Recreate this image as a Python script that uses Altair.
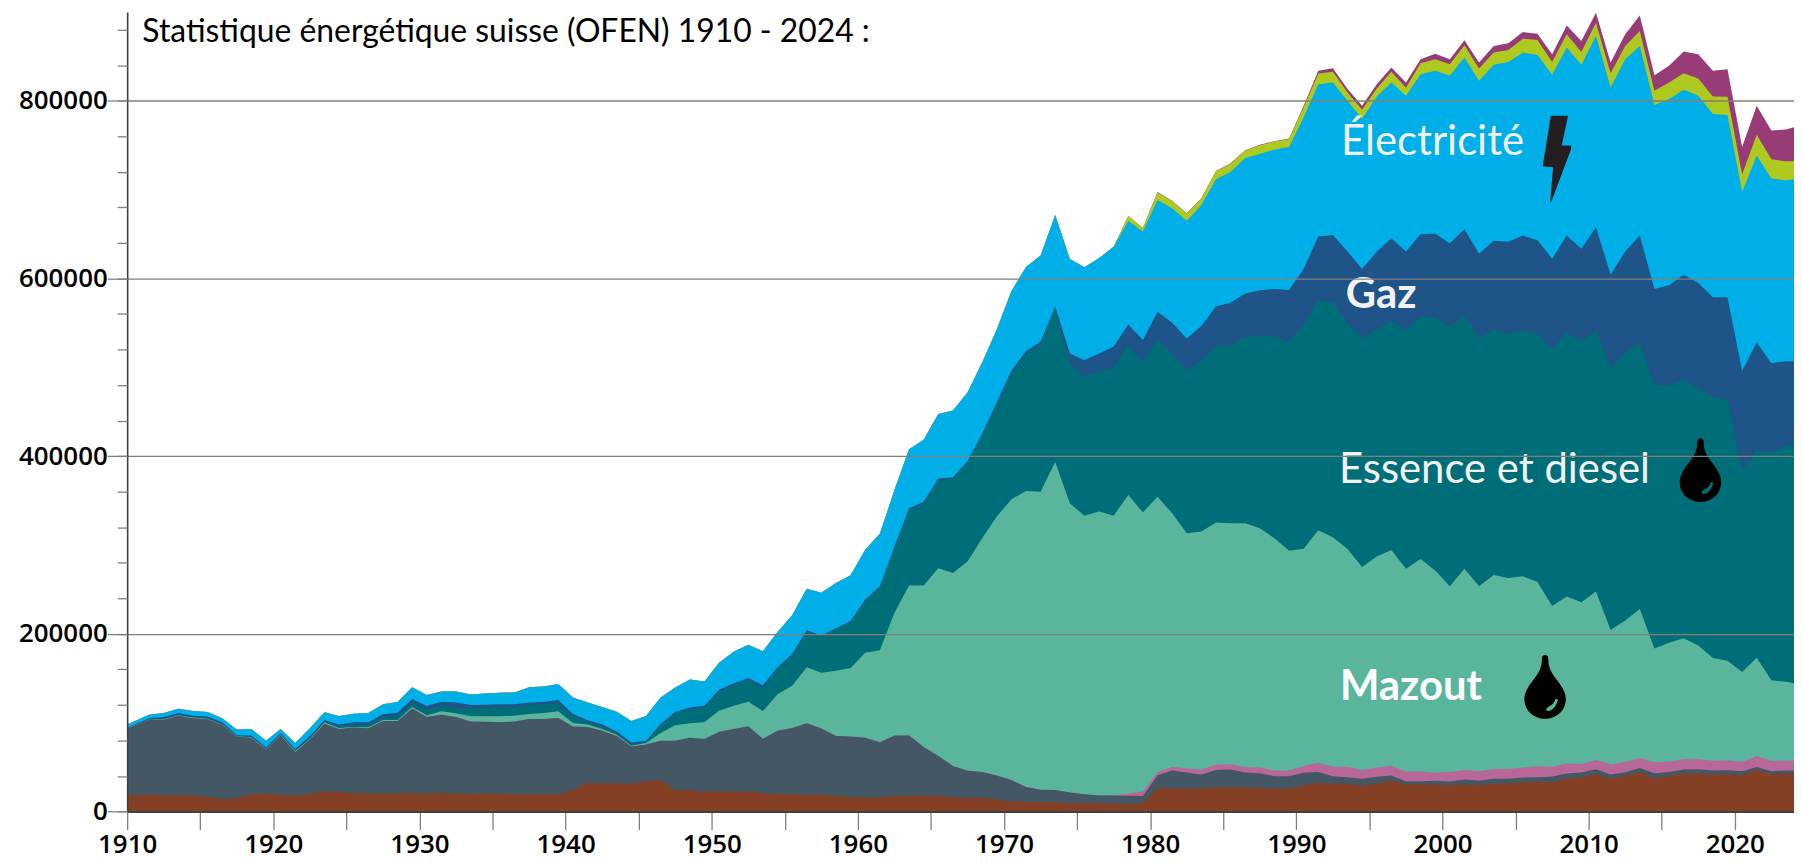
import altair as alt
import pandas as pd

years = list(range(1910, 2025))

# cumulative upper edge of every band, in thousands
wood_top = [
    18.6, 18.6, 18.6, 18.2, 18.2, 16.8, 14.2, 14.9, 19.4, 20.5,
    18.6, 17.9, 20.1, 22.7, 22.0, 20.9, 20.9, 20.1, 20.5, 20.9,
    20.5, 21.2, 20.5, 20.1, 20.1, 20.5, 19.4, 19.4, 19.2, 19.4,
    24.2, 32.4, 32.0, 32.0, 31.3, 34.3, 35.7, 23.8, 24.2, 22.3,
    23.0, 22.7, 22.3, 20.9, 19.7, 19.4, 18.6, 19.0, 17.5, 16.4,
    16.0, 15.6, 17.5, 17.5, 17.5, 17.9, 16.0, 15.6, 15.3, 13.8,
    11.5, 10.8, 10.4, 10.8, 9.3, 9.3, 9.3, 9.0, 8.6, 9.7,
    26.4, 26.4, 26.0, 26.0, 27.2, 27.6, 27.2, 26.8, 26.1, 26.1,
    29.8, 32.4, 31.7, 31.3, 29.4, 31.3, 34.6, 30.9, 30.9, 30.5,
    29.4, 30.5, 29.8, 31.3, 31.7, 32.8, 33.5, 33.1, 37.2, 38.4,
    42.1, 37.2, 40.2, 44.7, 37.6, 39.8, 42.8, 43.2, 41.7, 42.1,
    41.0, 46.9, 42.1, 42.8, 42.8,
]
coal_top = [
    93.8, 103.0, 103.5, 108.0, 105.0, 103.9, 97.6, 84.5, 83.0, 70.0,
    85.7, 67.0, 81.2, 99.0, 93.0, 94.6, 93.8, 102.0, 102.0, 116.0,
    106.5, 109.0, 106.5, 101.3, 101.0, 100.5, 101.3, 104.3, 104.3, 105.4,
    95.7, 95.3, 90.9, 85.2, 73.4, 75.6, 79.7, 79.7, 83.0, 81.6,
    90.0, 93.0, 96.0, 82.0, 91.0, 94.0, 99.4, 93.5, 85.0, 84.5,
    83.0, 78.0, 85.7, 85.7, 72.6, 62.6, 51.4, 46.0, 44.7, 40.6,
    35.7, 27.6, 24.6, 24.2, 21.6, 19.4, 18.2, 18.2, 17.9, 17.5,
    41.0, 46.2, 44.0, 41.7, 46.9, 47.3, 43.9, 43.2, 39.8, 39.8,
    43.6, 44.7, 39.8, 38.7, 36.9, 39.1, 40.6, 34.3, 34.3, 34.6,
    33.9, 36.1, 34.6, 36.9, 36.9, 38.4, 38.7, 39.5, 42.8, 43.9,
    47.7, 41.7, 44.3, 49.2, 43.2, 44.7, 47.3, 47.7, 46.2, 46.5,
    45.4, 50.3, 45.4, 46.2, 46.2,
]
heat_top = [
    93.8, 103.0, 103.5, 108.0, 105.0, 103.9, 97.6, 84.5, 83.0, 70.0,
    85.7, 67.0, 81.2, 99.0, 93.0, 94.6, 93.8, 102.0, 102.0, 116.0,
    106.5, 109.0, 106.5, 101.3, 101.0, 100.5, 101.3, 104.3, 104.3, 105.4,
    95.7, 95.3, 90.9, 85.2, 73.4, 75.6, 79.7, 79.7, 83.0, 81.6,
    90.0, 93.0, 96.0, 82.0, 91.0, 94.0, 99.4, 93.5, 85.0, 84.5,
    83.0, 78.0, 85.7, 85.7, 72.6, 62.6, 51.4, 46.0, 44.7, 40.6,
    35.7, 27.6, 24.6, 24.2, 21.6, 19.4, 18.2, 18.6, 20.5, 22.7,
    44.3, 50.6, 48.4, 47.3, 52.9, 53.3, 50.3, 49.5, 46.2, 46.2,
    51.4, 55.1, 50.6, 50.6, 46.9, 49.5, 51.4, 45.1, 45.1, 43.9,
    44.7, 46.9, 45.4, 48.0, 48.0, 49.5, 51.0, 50.6, 54.0, 53.6,
    58.1, 53.3, 55.9, 60.3, 55.5, 56.2, 59.2, 59.2, 57.3, 57.7,
    55.9, 62.2, 57.3, 57.3, 57.3,
]
mazout_top = [
    93.8, 103.5, 103.9, 108.4, 105.8, 104.6, 97.9, 84.9, 83.8, 70.4,
    86.4, 68.1, 81.9, 100.2, 94.2, 95.3, 95.0, 103.2, 103.2, 117.7,
    108.4, 112.8, 110.6, 107.3, 107.3, 107.3, 108.0, 109.9, 111.0, 112.8,
    99.8, 97.9, 93.1, 86.4, 74.1, 77.1, 88.6, 97.2, 99.4, 100.5,
    113.6, 119.2, 123.6, 113.2, 132.2, 141.5, 162.4, 156.4, 158.6, 161.6,
    178.8, 181.7, 223.8, 254.4, 254.4, 274.0, 268.6, 281.6, 307.7, 332.0,
    351.4, 360.7, 360.0, 393.5, 346.9, 333.0, 337.6, 333.0, 356.2, 336.8,
    354.4, 335.7, 313.3, 315.2, 325.3, 324.5, 324.5, 318.9, 307.7, 293.6,
    295.8, 316.7, 308.8, 295.4, 275.3, 287.2, 294.3, 273.4, 284.2, 271.2,
    253.6, 273.4, 253.6, 266.3, 263.0, 264.8, 258.5, 231.3, 242.0, 235.7,
    247.7, 204.4, 215.2, 227.9, 183.6, 189.9, 195.1, 186.9, 172.8, 169.8,
    157.2, 173.2, 147.8, 146.0, 143.4,
]
fuel_top = [
    93.8, 103.9, 104.6, 109.1, 106.5, 105.4, 98.3, 85.3, 84.2, 70.8,
    86.8, 68.9, 82.3, 101.3, 95.7, 97.6, 97.6, 106.1, 107.6, 122.9,
    114.7, 119.2, 116.6, 116.2, 116.9, 117.3, 118.0, 119.9, 121.0, 121.8,
    106.9, 100.5, 95.7, 87.9, 75.2, 78.6, 96.8, 109.9, 115.4, 117.3,
    134.8, 142.3, 148.6, 139.7, 160.1, 175.0, 201.8, 196.6, 204.8, 213.0,
    236.9, 251.8, 296.5, 340.2, 346.9, 373.0, 374.9, 392.8, 423.4, 458.0,
    493.1, 515.9, 525.9, 566.2, 503.6, 489.4, 495.3, 499.8, 525.2, 505.4,
    531.5, 514.7, 496.1, 507.3, 523.3, 524.8, 534.1, 535.3, 534.9, 528.5,
    548.3, 575.2, 572.9, 548.3, 532.3, 542.7, 552.0, 541.6, 557.6, 555.8,
    546.0, 557.6, 532.6, 541.6, 537.9, 540.9, 537.9, 520.3, 539.0, 528.5,
    541.6, 499.8, 516.6, 527.0, 480.4, 479.7, 486.0, 476.7, 466.3, 463.3,
    383.4, 406.6, 403.6, 412.2, 413.3,
]
gas_top = [
    94.2, 105.0, 106.5, 111.0, 108.0, 106.9, 100.5, 86.0, 85.7, 72.2,
    88.3, 70.4, 84.9, 103.2, 97.9, 100.5, 100.5, 109.5, 111.3, 126.6,
    118.8, 123.6, 122.9, 119.9, 120.3, 120.7, 120.7, 122.9, 123.3, 125.5,
    109.9, 102.8, 98.3, 90.1, 77.8, 79.7, 98.7, 112.1, 117.3, 119.2,
    137.0, 144.5, 150.4, 142.3, 162.4, 177.3, 204.1, 198.1, 206.3, 214.5,
    238.7, 253.6, 298.4, 341.3, 348.8, 374.9, 376.0, 394.6, 425.2, 460.7,
    496.1, 518.5, 528.9, 568.8, 515.5, 508.0, 515.5, 523.3, 548.3, 530.8,
    562.5, 550.2, 532.3, 546.4, 568.8, 572.6, 583.0, 586.7, 588.2, 587.0,
    611.0, 647.2, 649.0, 630.4, 610.6, 630.4, 645.3, 630.4, 649.8, 650.2,
    639.7, 655.4, 627.8, 642.3, 641.2, 648.3, 643.0, 622.2, 648.3, 633.4,
    657.6, 604.3, 630.4, 648.3, 588.2, 592.3, 604.3, 594.9, 578.9, 578.9,
    496.1, 527.8, 504.7, 506.9, 506.9,
]
power_top = [
    97.9, 109.1, 111.0, 115.8, 113.2, 112.1, 105.0, 92.4, 93.1, 79.7,
    93.1, 77.1, 93.8, 111.7, 107.6, 110.2, 111.0, 120.7, 123.3, 140.0,
    131.1, 135.2, 135.2, 131.8, 132.9, 133.7, 134.1, 140.0, 140.8, 143.7,
    128.5, 122.9, 117.7, 112.5, 102.0, 107.6, 128.5, 139.7, 148.6, 146.4,
    167.6, 179.9, 187.7, 180.6, 202.2, 221.0, 250.7, 246.2, 257.4, 266.0,
    294.7, 312.6, 361.8, 407.7, 418.5, 447.6, 451.3, 471.8, 505.4, 542.7,
    585.6, 612.8, 625.9, 671.4, 622.0, 612.5, 622.9, 635.6, 664.7, 652.8,
    688.2, 678.9, 664.7, 682.6, 711.7, 719.9, 735.6, 740.0, 745.0, 748.0,
    781.4, 818.7, 820.6, 800.1, 779.6, 804.9, 820.6, 805.7, 829.9, 833.7,
    828.0, 848.6, 822.5, 840.4, 843.7, 854.2, 851.6, 829.2, 859.8, 840.4,
    872.8, 815.0, 846.7, 861.6, 795.2, 802.0, 812.4, 805.7, 785.2, 784.0,
    697.5, 738.5, 712.4, 710.6, 712.4,
]
renew_top = [
    97.9, 109.1, 111.0, 115.8, 113.2, 112.1, 105.0, 92.4, 93.1, 79.7,
    93.1, 77.1, 93.8, 111.7, 107.6, 110.2, 111.0, 120.7, 123.3, 140.0,
    131.1, 135.2, 135.2, 131.8, 132.9, 133.7, 134.1, 140.0, 140.8, 143.7,
    128.5, 122.9, 117.7, 112.5, 102.0, 107.6, 128.5, 139.7, 148.6, 146.4,
    167.6, 179.9, 187.7, 180.6, 202.2, 221.0, 250.7, 246.2, 257.4, 266.0,
    294.7, 312.6, 361.8, 407.7, 418.5, 447.6, 451.3, 471.8, 505.4, 542.7,
    585.6, 612.8, 625.9, 671.4, 622.0, 612.5, 622.9, 635.6, 670.3, 657.2,
    696.8, 687.1, 672.9, 690.0, 720.6, 729.2, 744.0, 750.0, 754.0, 757.0,
    792.6, 830.7, 832.5, 809.4, 790.0, 813.9, 832.5, 814.6, 842.2, 846.7,
    841.1, 862.4, 836.3, 854.2, 857.2, 869.8, 868.3, 843.7, 874.7, 854.9,
    887.7, 831.0, 861.6, 878.4, 811.3, 820.6, 831.0, 825.1, 804.9, 804.6,
    716.9, 761.7, 734.1, 731.8, 731.8,
]
other_top = [
    97.9, 109.1, 111.0, 115.8, 113.2, 112.1, 105.0, 92.4, 93.1, 79.7,
    93.1, 77.1, 93.8, 111.7, 107.6, 110.2, 111.0, 120.7, 123.3, 140.0,
    131.1, 135.2, 135.2, 131.8, 132.9, 133.7, 134.1, 140.0, 140.8, 143.7,
    128.5, 122.9, 117.7, 112.5, 102.0, 107.6, 128.5, 139.7, 148.6, 146.4,
    167.6, 179.9, 187.7, 180.6, 202.2, 221.0, 250.7, 246.2, 257.4, 266.0,
    294.7, 312.6, 361.8, 407.7, 418.5, 447.6, 451.3, 471.8, 505.4, 542.7,
    585.6, 612.8, 625.9, 671.4, 622.0, 612.5, 622.9, 635.6, 670.3, 657.2,
    697.2, 687.5, 673.3, 690.4, 721.0, 729.6, 744.4, 750.4, 754.5, 757.6,
    794.5, 833.7, 836.6, 813.1, 794.5, 818.7, 837.4, 820.6, 846.7, 853.0,
    846.7, 868.0, 843.0, 861.6, 864.6, 877.3, 875.4, 852.3, 884.8, 867.2,
    898.9, 843.0, 874.7, 896.0, 828.8, 839.3, 855.3, 852.3, 833.7, 835.5,
    747.9, 794.5, 766.5, 767.6, 772.1,
]

band_names = ["other", "renew", "power", "gas", "fuel", "mazout", "heat", "coal", "wood"]
band_tops = [other_top, renew_top, power_top, gas_top, fuel_top, mazout_top, heat_top, coal_top, wood_top]
band_colors = ["#973c76", "#afca1f", "#00aee8", "#1f5488", "#006e78", "#59b59c", "#b76899", "#445764", "#844024"]

major_y = [0, 200000, 400000, 600000, 800000]
minor_y = [40000 * i for i in range(23)]
ticks_x = list(range(1910, 2025, 5))

df = pd.DataFrame({"year": years})
for name, top in zip(band_names, band_tops):
    df[name] = [v * 1000 for v in top]

x_scale = alt.Scale(domain=[1910, 2024.05], nice=False, zero=False)
y_scale = alt.Scale(domain=[0, 900000], nice=False, zero=True)

AXIS_FONT = "Open Sans"
AXIS_SIZE = 26
GREY = "#808078"
DARK = "#404040"

major_axis = alt.Axis(
    values=major_y, format="d", title=None, orient="left", grid=True, gridColor=GREY, gridWidth=1.3,
    tickSize=20, tickColor=GREY, tickWidth=1.3, domainColor=DARK, domainWidth=1.6,
    labelFont=AXIS_FONT, labelFontSize=AXIS_SIZE, labelFontWeight=600, labelColor="#000000",
    labelPadding=0, labelFlush=False, labelOverlap=False, zindex=1,
)
minor_axis = alt.Axis(
    values=minor_y, title=None, orient="left", grid=False, labels=False, domain=False,
    tickSize=10, tickColor=GREY, tickWidth=1.3, zindex=1,
)
x_axis = alt.Axis(
    values=ticks_x, format="d", title=None, grid=False,
    labelExpr="datum.value % 10 == 0 ? datum.label : ''",
    tickSize=18, tickColor=GREY, tickWidth=1.3, domainColor=DARK, domainWidth=2,
    labelFont=AXIS_FONT, labelFontSize=AXIS_SIZE, labelFontWeight=600, labelColor="#000000",
    labelPadding=2, labelFlush=False, labelOverlap=False, zindex=1,
)

base = alt.Chart(df).transform_calculate(pos="datum.year == 1910 ? 1910 : datum.year + 0.5")

layers = []
for i, (name, color) in enumerate(zip(band_names, band_colors)):
    y_axis = major_axis if i == 0 else minor_axis if i == 1 else None
    layers.append(
        base.mark_area(color=color, clip=True, interpolate="linear", opacity=1).encode(
            x=alt.X("pos:Q", scale=x_scale, axis=x_axis if i == 0 else None),
            y=alt.Y(f"{name}:Q", scale=y_scale, axis=y_axis, stack=None),
        )
    )

blank = alt.Data(values=[{}])


def place(mark, at_year, at_value):
    return alt.Chart(blank).mark_point().mark_text() if False else alt.Chart(blank, mark=mark).encode(
        x=alt.X(datum=at_year, type="quantitative", scale=x_scale, axis=None),
        y=alt.Y(datum=at_value, type="quantitative", scale=y_scale, axis=None),
    )


def label(text, at_year, at_value, size, weight="normal", color="#f2f2f2"):
    return place(
        alt.MarkDef(type="text", text=text, font="Lato", fontSize=size, fontWeight=weight, color=color,
                    align="left", baseline="alphabetic"),
        at_year, at_value,
    )


def icon(path, at_year, at_value, size, color):
    return place(
        alt.MarkDef(type="point", shape=path, size=size, filled=True, fill=color, stroke=None, opacity=1),
        at_year, at_value,
    )


BOLT = ("M-0.146,-1 L0.253,-1 L0.107,-0.31 L0.33,-0.31 L0.322,-0.226 L-0.13,0.977 L-0.16,1 "
        "L-0.092,0.188 L-0.322,0.172 L-0.322,0.096 Z")
DROP = ("M-0.1,-0.88 Q-0.1,-1 0,-1 Q0.1,-1 0.1,-0.88 C0.1,-0.6 0.2,-0.45 0.35,-0.25 "
        "C0.5,-0.05 0.65,0.15 0.65,0.38 C0.65,0.75 0.35,1 0,1 C-0.35,1 -0.65,0.75 -0.65,0.38 "
        "C-0.65,0.15 -0.5,-0.05 -0.35,-0.25 C-0.2,-0.45 -0.1,-0.6 -0.1,-0.88 Z")
SHINE = ("M0.03,0.72 Q0.1,0.78 0.2,0.72 Q0.35,0.62 0.4,0.42 Q0.38,0.36 0.32,0.38 "
         "Q0.3,0.5 0.18,0.58 Q0.05,0.63 0.03,0.72 Z")

TEXT = [
    label("Statistique énergétique suisse (OFEN) 1910 - 2024 :", 1911.04, 866000, 32, color="#000000"),
    label("Électricité", 1993.06, 739400, 42),
    label("Gaz", 1993.38, 567300, 42, weight="bold"),
    label("Essence et diesel", 1992.92, 370200, 42),
    label("Mazout", 1992.98, 125800, 42, weight="bold", color="#ffffff"),
    icon(BOLT, 2007.84, 734400, 7569, "#231f20"),
    icon(DROP, 2017.65, 384400, 4096, "#000000"),
    icon(SHINE, 2017.65, 384400, 4096, "#006e78"),
    icon(DROP, 2007.02, 140300, 4096, "#000000"),
    icon(SHINE, 2007.02, 140300, 4096, "#59b59c"),
]

chart = (
    alt.layer(*layers, *TEXT)
    .resolve_axis(y="independent", x="independent")
    .resolve_scale(y="shared", x="shared")
    .properties(
        width=1674.3,
        height=803.3,
        padding={"left": 119.7, "top": 2, "right": 0, "bottom": 46},
        autosize=alt.AutoSizeParams(type="none"),
        background="#ffffff",
    )
    .configure_view(stroke=None)
)

chart.save("out.html", embed_options={"renderer": "svg", "actions": False})
